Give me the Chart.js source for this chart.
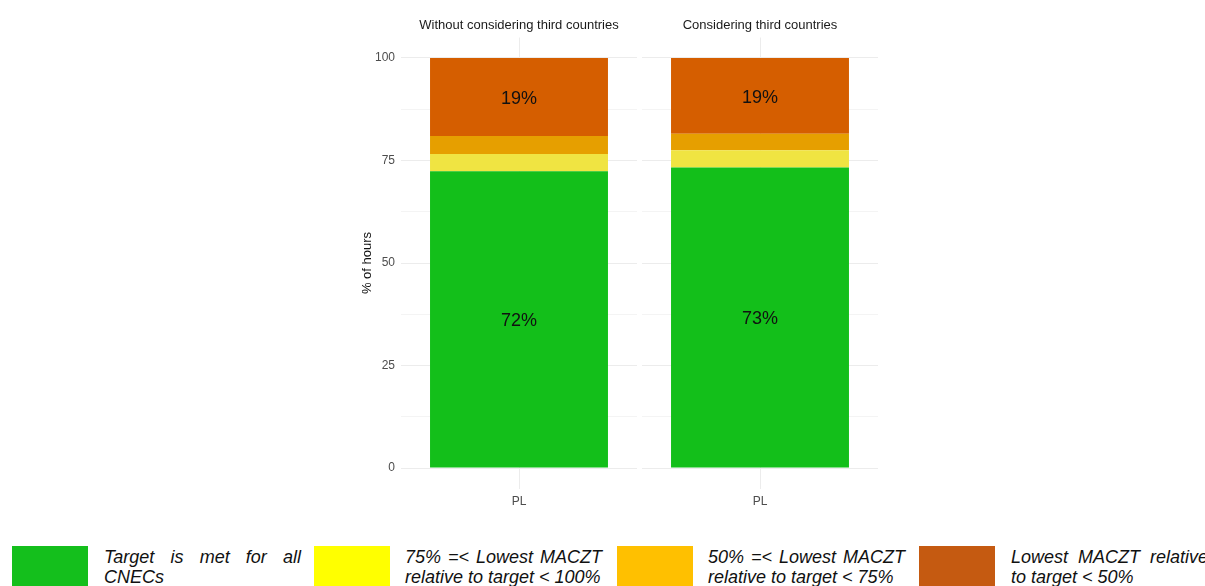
<!DOCTYPE html>
<html>
<head>
<meta charset="utf-8">
<script src="https://cdn.jsdelivr.net/npm/chart.js@4.4.1/dist/chart.umd.min.js"></script>
<style>
  body { margin: 0; background: #fff; width: 1205px; height: 586px; overflow: hidden; position: relative; font-family: "Liberation Sans", Arial, sans-serif; }
  canvas { position: absolute; top: 0; }
  .box { position: absolute; top: 546px; width: 76px; height: 50px; }
  .txt { position: absolute; top: 547px; width: 197px; font-style: italic; font-size: 18px; line-height: 20px; text-align: justify; color: #111; }
</style>
</head>
<body>
<canvas id="left" width="282" height="530" style="left:355px"></canvas>
<canvas id="right" width="236" height="530" style="left:642px"></canvas>
<div id="legend"></div>
<script>
// data
const categories = ['PL'];
const facetTitles = ['Without considering third countries', 'Considering third countries'];
const greenVals = [72.4, 73.3];
const yellowVals = [4.2, 4.2];
const orangeVals = [4.4, 4.0];
const redVals = [19.0, 18.5];
const yTicks = [0, 12.5, 25, 37.5, 50, 62.5, 75, 87.5, 100];
const legendLabels = [
    'Target is met for all CNECs',
    '75% =< Lowest MACZT relative to target < 100%',
    '50% =< Lowest MACZT relative to target < 75%',
    'Lowest MACZT relative to target < 50%'
];

const barColors = ['#13bf1a', '#f0e442', '#e69f00', '#d55e00'];
const legendColors = ['#14bf1c', '#ffff00', '#ffc000', '#c55a11'];
const gridCol = '#ececec';

// labels in green and red segments + facet strip title
const labelPlugin = {
    id: 'labels',
    afterDatasetsDraw(chart, args, opts) {
        const ctx = chart.ctx;
        ctx.save();
        ctx.fillStyle = '#111';
        ctx.textAlign = 'center';
        ctx.textBaseline = 'middle';
        ctx.font = '18px "Liberation Sans", Arial, sans-serif';
        [0, 3].forEach(di => {
            const meta = chart.getDatasetMeta(di);
            meta.data.forEach((bar, i) => {
                const v = chart.data.datasets[di].data[i];
                ctx.fillText(Math.round(v) + '%', bar.x, (bar.y + bar.base) / 2 + 2);
            });
        });
        const a = chart.chartArea;
        ctx.fillStyle = '#1a1a1a';
        ctx.font = '13px "Liberation Sans", Arial, sans-serif';
        ctx.fillText(opts.title, (a.left + a.right) / 2, 25);
        ctx.restore();
    }
};

function makeChart(id, idx, showY) {
    const vals = [greenVals, yellowVals, orangeVals, redVals];
    return new Chart(document.getElementById(id), {
        type: 'bar',
        data: {
            labels: categories,
            datasets: vals.map((v, k) => ({
                data: [v[idx]],
                backgroundColor: barColors[k],
                borderWidth: 0,
                categoryPercentage: 1,
                barPercentage: 0.754
            }))
        },
        options: {
            responsive: false,
            animation: false,
            layout: { padding: { top: 37.5, right: 0, left: 0, bottom: 0 } },
            plugins: {
                legend: { display: false },
                tooltip: { enabled: false },
                labels: { title: facetTitles[idx] }
            },
            scales: {
                x: {
                    stacked: true,
                    border: { display: false },
                    grid: { offset: false, color: gridCol, drawTicks: false },
                    ticks: { padding: 6, color: '#4d4d4d', font: { size: 12, family: '"Liberation Sans", Arial' } },
                    afterFit: s => { s.height = 41.5; }
                },
                y: {
                    stacked: true,
                    min: -5, max: 105,
                    border: { display: false },
                    afterBuildTicks: s => { s.ticks = yTicks.map(v => ({ value: v })); },
                    grid: {
                        color: gridCol, drawTicks: false,
                        lineWidth: c => (c.tick && c.tick.value % 25 === 0) ? 1 : 0.6
                    },
                    ticks: {
                        display: showY, padding: 6, color: '#4d4d4d',
                        font: { size: 12, family: '"Liberation Sans", Arial' },
                        callback: v => v % 25 === 0 ? v : ''
                    },
                    title: {
                        display: showY, text: '% of hours', color: '#111',
                        padding: { top: 5, bottom: 0 },
                        font: { size: 13, family: '"Liberation Sans", Arial' }
                    },
                    afterFit: s => { s.width = showY ? 46 : 0; }
                }
            }
        },
        plugins: [labelPlugin]
    });
}

makeChart('left', 0, true);
makeChart('right', 1, false);

// legend below the chart
const boxX = [12, 314, 617, 919];
const txtX = [104, 405, 708, 1011];
const legend = document.getElementById('legend');
legendLabels.forEach((t, i) => {
    const b = document.createElement('div');
    b.className = 'box';
    b.style.left = boxX[i] + 'px';
    b.style.background = legendColors[i];
    legend.appendChild(b);
    const d = document.createElement('div');
    d.className = 'txt';
    d.style.left = txtX[i] + 'px';
    d.textContent = t;
    legend.appendChild(d);
});
</script>
</body>
</html>
